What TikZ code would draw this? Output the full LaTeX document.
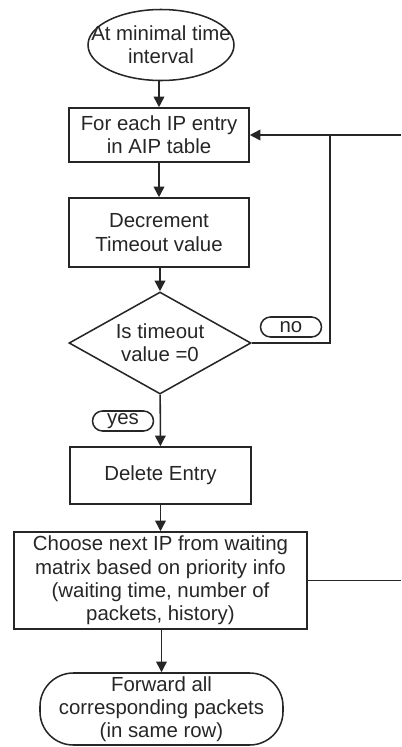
\documentclass[tikz,border=0pt]{standalone}
\usepackage{fontspec}
\setmainfont{Liberation Sans}
\usetikzlibrary{shapes.geometric,arrows.meta}
\begin{document}
\begin{tikzpicture}[x=0.75pt,y=-0.75pt,
  every node/.style={font=\fontsize{15.3}{17.4}\selectfont, align=center, inner sep=0pt, text=black!85},
  shapeline/.style={draw=black!85, line width=1.15pt},
  stepbox/.style={shapeline, rectangle},
  tag/.style={shapeline, rectangle, rounded corners=7.5pt, minimum width=45.75pt, minimum height=15pt},
  arr/.style={draw=black!85, line width=1.15pt, -{Triangle[length=8pt,width=8pt]}},
  ln/.style={draw=black!85, line width=1.15pt}]
\useasboundingbox (0,0) rectangle (401,747);
\node[shapeline, ellipse, inner xsep=-15pt, inner ysep=0pt, minimum width=109.5pt, minimum height=53.25pt] (start) at (161,45) {At minimal time\\interval};
\node[stepbox, minimum width=135pt, minimum height=40.5pt] (b1) at (159,135) {For each IP entry\\in AIP table};
\node[stepbox, minimum width=135pt, minimum height=51.75pt] (b2) at (159,232.5) {Decrement\\Timeout value};
\node[shapeline, diamond, aspect=1.78, minimum width=136.5pt, minimum height=76.5pt] (dec) at (160,343) {Is timeout\\value =0};
\node[stepbox, minimum width=135.75pt, minimum height=42.75pt] (del) at (160.5,475.5) {Delete Entry};
\node[stepbox, minimum width=219.75pt, minimum height=72.75pt] (choose) at (160.5,580.5) {Choose next IP from waiting\\matrix based on priority info\\(waiting time, number of\\packets, history)};
\node[shapeline, rectangle, rounded corners=25pt, minimum width=182.25pt, minimum height=54pt] (fwd) at (161.5,709) {Forward all\\corresponding packets\\(in same row)};
\node[tag] (no) at (291,327) {no};
\node[tag] (yes) at (123,421) {yes};
\coordinate (re1) at (401,580.5);
\coordinate (re2) at (401,135);
\coordinate (jn) at (330,135);
\draw[arr] (start.south -| b1.north) -- (b1.north);
\draw[arr] (b1) -- (b2);
\draw[arr] (b2.south -| dec.north) -- (dec.north);
\draw[arr] (dec) -- (del);
\draw[arr] (del) -- (choose);
\draw[arr] (choose.south -| fwd.north) -- (fwd.north);
\draw[ln] (choose.east) -- (re1);
\draw[arr] (re2) -- (b1.east);
\draw[ln] (dec.east) -| (jn);
\end{tikzpicture}
\end{document}
